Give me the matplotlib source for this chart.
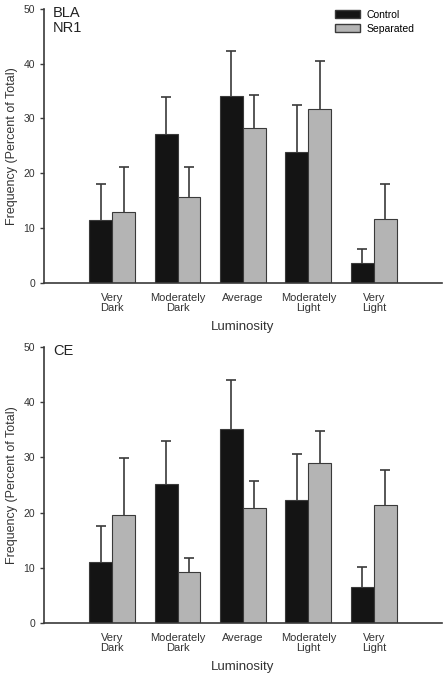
import numpy as np
import matplotlib
matplotlib.use("Agg")
import matplotlib.pyplot as plt
from matplotlib.patches import Patch

plt.rcParams['font.family'] = ['Liberation Sans', 'DejaVu Sans']

kategorie = ["Very\nDark", "Moderately\nDark", "Average", "Moderately\nLight", "Very\nLight"]

# BLA NR1
bla_kontrola = [11.4, 27.1, 34.1, 23.8, 3.7]
bla_kontrola_err = [6.6, 6.9, 8.2, 8.7, 2.4]
bla_separ = [13.0, 15.7, 28.3, 31.7, 11.7]
bla_separ_err = [8.2, 5.5, 6.0, 8.8, 6.3]

# CE
ce_kontrola = [11.0, 25.1, 35.2, 22.3, 6.5]
ce_kontrola_err = [6.6, 7.8, 8.8, 8.3, 3.7]
ce_separ = [19.5, 9.3, 20.9, 29.0, 21.4]
ce_separ_err = [10.4, 2.5, 4.9, 5.8, 6.4]

kolor_k = "#141414"
kolor_s = "#b4b4b4"
kolor_lin = "#3a3a3a"


def slupki(ax, x, wartosci, bledy, kolor):
    bc = ax.bar(x, wartosci, 0.35, color=kolor, edgecolor=kolor_lin, linewidth=0.8,
                yerr=[np.zeros(len(bledy)), bledy],
                error_kw=dict(ecolor=kolor_lin, elinewidth=1.2, capsize=3.5, capthick=1.2))
    # tylko gorna kreska wasow
    caps = bc.errorbar.lines[1]
    caps[0].set_visible(False)


def panel(ax, kontrola, k_err, separ, s_err, etykieta, legenda=False):
    x = np.arange(len(kategorie))
    w = 0.35
    slupki(ax, x - w / 2, kontrola, k_err, kolor_k)
    slupki(ax, x + w / 2, separ, s_err, kolor_s)
    ax.set_xlim(-1.04, 5.04)
    ax.set_ylim(0, 50)
    ax.set_yticks([0, 10, 20, 30, 40, 50])
    ax.set_xticks(x)
    ax.set_xticklabels(kategorie, fontsize=8, color="#333333", linespacing=1.05)
    ax.tick_params(axis="x", length=0, pad=7)
    ax.tick_params(axis="y", labelsize=7.5, labelcolor="#333333", length=3, width=1, color=kolor_lin)
    for s in ["top", "right"]:
        ax.spines[s].set_visible(False)
    for s in ["left", "bottom"]:
        ax.spines[s].set_color(kolor_lin)
        ax.spines[s].set_linewidth(1.2)
    ax.set_xlabel("Luminosity", fontsize=9.5, color="#333333", labelpad=6)
    ax.set_ylabel("Frequency (Percent of Total)", fontsize=9, color="#333333", labelpad=4)
    ax.text(-0.9, 50.5, etykieta, fontsize=10.5, color="#222222", va="top", ha="left",
            linespacing=1.05)
    if legenda:
        uchwyty = [Patch(facecolor=kolor_k, edgecolor=kolor_lin, label="Control"),
                   Patch(facecolor=kolor_s, edgecolor=kolor_lin, label="Separated")]
        ax.legend(handles=uchwyty, loc="upper right", bbox_to_anchor=(0.955, 1.03),
                  frameon=False, fontsize=7.5, handlelength=2.4, handleheight=0.8,
                  labelspacing=0.35, handletextpad=0.6)


fig = plt.figure(figsize=(4.46, 6.8), dpi=100)
ax1 = fig.add_axes([0.0987, 0.584, 0.892, 0.403])
ax2 = fig.add_axes([0.0987, 0.0838, 0.892, 0.406])

panel(ax1, bla_kontrola, bla_kontrola_err, bla_separ, bla_separ_err, "BLA\nNR1", legenda=True)
panel(ax2, ce_kontrola, ce_kontrola_err, ce_separ, ce_separ_err, "CE")

fig.savefig("out.png", dpi=100)
